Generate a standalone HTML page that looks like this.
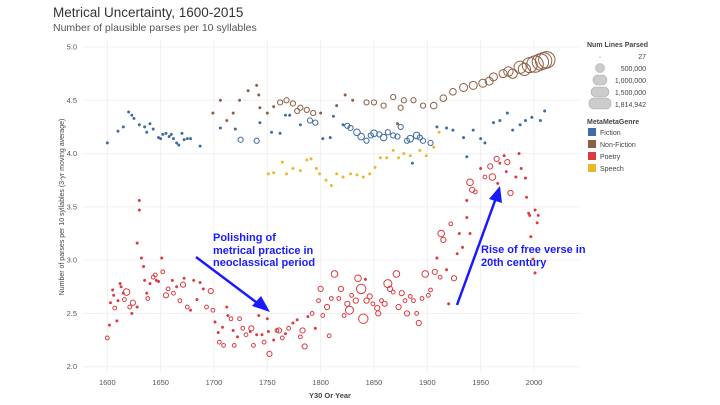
<!DOCTYPE html>
<html><head><meta charset="utf-8"><style>
body{margin:0;background:#fff;font-family:"Liberation Sans",sans-serif}
#wrap{position:relative;width:720px;height:405px;overflow:hidden}
</style></head><body>
<div id="wrap">
<svg id="svg" width="720" height="405" xmlns="http://www.w3.org/2000/svg">
<text x="53" y="17" font-size="13.5" fill="#333">Metrical Uncertainty, 1600-2015</text>
<text x="53" y="31" font-size="10.5" fill="#555">Number of plausible parses per 10 syllables</text>
<g id="grid"></g>
<g id="marks"></g>
<text x="330" y="398" font-size="7.5" font-weight="bold" fill="#444" text-anchor="middle">Y30 Or Year</text>
<text transform="translate(64,207) rotate(-90)" font-size="7" fill="#444" text-anchor="middle">Number of parses per 10 syllables (3-yr moving average)</text>
<g fill="#1a1aff" font-size="11" font-weight="bold">
<text x="213" y="241">Polishing of</text><text x="213" y="254">metrical practice in</text><text x="213" y="266">neoclassical period</text>
<line x1="196" y1="257" x2="260" y2="305" stroke="#1a1aff" stroke-width="2.5"/>
<polygon points="270,312 252,306 261,296" fill="#1a1aff"/>
</g>
<g fill="#1a1aff" font-size="11" font-weight="bold">
<text x="481" y="253">Rise of free verse in</text><text x="481" y="266">20th century</text>
<line x1="457" y1="305" x2="496" y2="198" stroke="#1a1aff" stroke-width="2.5"/>
<polygon points="500,186 502,203 489,199" fill="#1a1aff"/>
</g>
<g font-size="7" fill="#444">
<text x="587" y="47" font-weight="bold">Num Lines Parsed</text>
<circle cx="600" cy="57" r="0.8" fill="#bbb"/><text x="646" y="59" text-anchor="end">27</text>
<circle cx="600" cy="68" r="4.5" fill="#ccc" stroke="#aaa" stroke-width="0.6"/><text x="646" y="71" text-anchor="end">500,000</text>
<rect x="593" y="75" width="14" height="10" rx="5" fill="#ccc" stroke="#aaa" stroke-width="0.6"/><text x="646" y="83" text-anchor="end">1,000,000</text>
<rect x="591" y="87" width="18" height="10" rx="5" fill="#ccc" stroke="#aaa" stroke-width="0.6"/><text x="646" y="95" text-anchor="end">1,500,000</text>
<rect x="589" y="98" width="22" height="11" rx="5" fill="#ccc" stroke="#aaa" stroke-width="0.6"/><text x="646" y="107" text-anchor="end">1,814,942</text>
</g>
<g font-size="7" fill="#444">
<text x="587" y="124" font-weight="bold">MetaMetaGenre</text>
<rect x="588" y="128" width="8" height="8" fill="#3f6aa3"/><text x="600" y="135">Fiction</text>
<rect x="588" y="140" width="8" height="8" fill="#8e5e44"/><text x="600" y="147">Non-Fiction</text>
<rect x="588" y="152" width="8" height="8" fill="#dc3b3f"/><text x="600" y="159">Poetry</text>
<rect x="588" y="164" width="8" height="8" fill="#e9b82b"/><text x="600" y="171">Speech</text>
</g>
</svg>
</div>
<script>
const xTicks=[1600,1650,1700,1750,1800,1850,1900,1950,2000];
const yTicks=[2.0,2.5,3.0,3.5,4.0,4.5,5.0];
const fictionYears=[1600,1610,1615,1620,1623,1625,1630,1635,1637,1640,1643,1648,1650,1652,1655,1658,1660,1662,1665,1667,1670,1672,1675,1678,1687,1706,1720,1725,1740,1743,1754,1762,1767,1771,1781,1790,1795,1802,1809,1812,1821,1828,1834,1843,1850,1859,1868,1875,1881,1886,1890,1896,1903,1909,1918,1924,1934,1937,1943,1950,1954,1962,1968,1975,1980,1987,1992,1998,2006,2010,1825,1838,1847,1855,1863,1872,1884,1893];
const fictionValues=[4.10,4.21,4.25,4.39,4.36,4.33,4.27,4.25,4.20,4.28,4.23,4.15,4.14,4.18,4.19,4.16,4.18,4.14,4.10,4.08,4.19,4.13,4.14,4.14,4.07,4.24,4.23,4.13,4.12,4.29,4.20,4.19,4.36,4.36,4.27,4.31,4.29,4.14,4.15,4.35,4.27,4.24,4.20,4.12,4.19,4.15,4.17,4.25,4.12,3.91,4.17,4.12,4.10,4.25,4.24,4.22,4.15,3.97,4.22,4.14,4.10,4.29,4.31,4.38,4.22,4.27,4.31,4.34,4.31,4.40,4.26,4.16,4.17,4.18,4.20,4.16,4.14,4.15];
const fictionSizes=[0,0,0,0,0,0,0,0,0,0,0,0,0,0,0,0,0,0,0,0,0,0,0,0,0,0,0,3,3,0,0,0,0,0,0,3,3,0,0,0,0,3,4,3,4,4,3,3,3,0,4,3,3,0,0,0,0,0,0,0,0,0,0,0,0,0,0,0,0,0,3,4,3,3,3,3,4,3];
const nonfictionYears=[1699,1706,1712,1718,1724,1732,1740,1742,1743,1750,1756,1762,1768,1774,1778,1781,1787,1793,1800,1815,1823,1830,1843,1850,1859,1868,1872,1875,1878,1887,1896,1906,1915,1924,1934,1943,1952,1962,1971,1980,1987,1996,2006,2012,1991,2001,2009,1976,1958];
const nonfictionValues=[4.38,4.50,4.31,4.38,4.50,4.59,4.64,4.55,4.43,4.38,4.44,4.48,4.50,4.47,4.40,4.43,4.41,4.38,4.38,4.45,4.55,4.50,4.48,4.48,4.45,4.53,4.28,4.43,4.50,4.50,4.45,4.45,4.52,4.58,4.62,4.64,4.66,4.72,4.75,4.75,4.81,4.83,4.86,4.88,4.79,4.84,4.87,4.77,4.68];
const nonfictionSizes=[0,0,0,0,0,0,0,0,0,0,0,3,3,3,3,3,3,3,0,0,0,0,3,3,3,3,0,3,3,3,3,4,4,4,5,5,5,5,5,6,8,10,11,11,8,11,11,6,5];
const speechYears=[1751,1756,1764,1768,1774,1781,1787,1791,1796,1799,1805,1810,1815,1821,1828,1834,1840,1846,1851,1856,1862,1868,1873,1878,1884,1893,1899,1906,1911];
const speechValues=[3.81,3.82,3.92,3.81,3.86,3.84,3.94,3.95,3.86,3.81,3.75,3.70,3.81,3.78,3.81,3.80,3.78,3.81,3.87,3.96,3.96,4.03,3.96,4.00,3.98,4.03,3.98,4.06,4.20];
const poetryYears=[1600,1602,1603,1605,1606,1607,1609,1610,1612,1613,1615,1616,1618,1621,1623,1624,1628,1628,1630,1630,1632,1634,1635,1637,1638,1640,1643,1645,1646,1648,1651,1652,1655,1657,1661,1662,1665,1668,1671,1672,1675,1678,1681,1684,1687,1690,1693,1697,1699,1701,1704,1705,1708,1709,1712,1713,1716,1718,1719,1722,1724,1727,1730,1734,1735,1737,1740,1742,1745,1747,1750,1751,1752,1756,1759,1761,1764,1767,1770,1774,1778,1781,1783,1785,1788,1792,1795,1798,1800,1802,1806,1808,1810,1813,1817,1819,1822,1825,1827,1829,1833,1835,1838,1840,1842,1843,1846,1849,1853,1854,1857,1860,1863,1865,1868,1871,1873,1876,1879,1881,1884,1887,1890,1892,1895,1898,1901,1903,1907,1909,1912,1913,1915,1918,1920,1922,1925,1928,1930,1933,1937,1940,1940,1942,1937,1945,1950,1954,1959,1961,1965,1968,1966,1972,1975,1974,1978,1983,1986,1988,1992,1993,1995,1997,2001,1999,1996,2001,2003,2004];
const poetryValues=[2.27,2.39,2.60,2.72,2.67,2.55,2.43,2.62,2.78,2.75,2.69,2.63,2.70,2.56,2.50,2.60,2.56,3.16,3.47,3.56,3.02,2.94,2.81,2.69,2.64,2.78,2.84,2.86,2.81,2.80,3.02,2.89,2.67,2.73,2.81,2.69,2.75,2.62,2.77,2.83,2.56,2.53,2.81,2.63,2.79,2.73,2.56,2.71,2.53,2.42,2.32,2.23,2.37,2.20,2.56,2.48,2.45,2.34,2.20,2.28,2.45,2.36,2.30,2.33,2.36,2.20,2.30,2.48,2.30,2.23,2.45,2.33,2.12,2.25,2.34,2.34,2.27,2.31,2.36,2.41,2.44,2.28,2.34,2.19,2.47,2.50,2.36,2.62,2.73,2.48,2.56,2.29,2.64,2.87,2.64,2.73,2.48,2.59,2.53,2.67,2.62,2.83,2.73,2.45,2.82,2.62,2.66,2.59,2.55,2.50,2.62,2.59,2.78,2.73,2.70,2.87,2.56,2.69,2.62,2.50,2.66,2.62,2.50,2.41,2.64,2.87,2.67,2.72,2.89,3.02,2.84,3.25,3.19,2.91,2.59,3.34,2.83,3.06,3.25,3.12,3.40,3.25,3.73,3.66,3.56,3.64,3.86,3.78,3.88,3.78,3.95,3.91,3.72,3.98,3.92,3.83,3.63,3.78,4.00,3.86,3.77,3.59,3.44,3.22,3.47,3.01,3.42,2.88,3.35,3.42];
const poetrySizes=[2,0,0,0,0,2,0,0,0,0,0,2,4,2,0,3,0,0,0,0,0,0,0,0,2,0,2,2,0,0,0,2,3,2,0,2,0,2,3,0,2,0,0,0,0,0,2,3,2,0,0,2,0,2,0,0,2,0,2,0,2,2,2,0,3,2,0,0,0,2,0,0,3,0,2,3,2,0,2,0,0,2,3,3,0,2,0,2,3,2,3,2,2,4,2,3,2,3,5,2,3,4,6,6,0,3,3,2,3,3,2,3,5,3,2,4,3,3,2,3,2,2,2,3,2,4,2,2,3,0,2,4,3,0,0,2,3,0,0,0,0,0,4,3,0,2,0,2,3,4,3,0,0,0,3,0,3,0,0,0,0,0,0,0,0,0,0,0,0,0];
const NS='http://www.w3.org/2000/svg';
const X0=1600,X1=2000,PX0=107.3,PX1=534;
const Y0=2,Y1=5,PY0=366.7,PY1=47;
function xs(v){return PX0+(v-X0)*(PX1-PX0)/(X1-X0);}
function ys(v){return PY0-(v-Y0)*(PY0-PY1)/(Y1-Y0);}
const grid=document.getElementById('grid'),marks=document.getElementById('marks');
function mk(tag,attrs,parent){const e=document.createElementNS(NS,tag);for(const k in attrs)e.setAttribute(k,attrs[k]);parent.appendChild(e);return e;}
xTicks.forEach(t=>{
 const l=mk('line',{x1:xs(t),x2:xs(t),y1:40,y2:372,stroke:'#f0f0f0'},grid);
 
 
 const tx=mk('text',{x:xs(t),y:385,'font-size':7.5,fill:'#555','text-anchor':'middle'},grid);
 
 
 tx.textContent=t;
});
yTicks.forEach(t=>{
 const l=mk('line',{x1:83,x2:580,y1:ys(t),y2:ys(t),stroke:'#f0f0f0'},grid);
 
 
 const tx=mk('text',{x:77,y:ys(t)+2.5,'font-size':7.5,fill:'#555','text-anchor':'end'},grid);
 
 
 tx.textContent=t.toFixed(1);
});
function series(years,vals,sizes,color,name){
 years.forEach((yr,i)=>{
  const s=sizes?sizes[i]:0;
  const c=mk('circle',{cx:xs(yr),cy:ys(vals[i]),r:s?s*0.7+0.5:1.3,fill:s?'none':color,stroke:color,'stroke-width':s?1:0.5},marks);
  
  
 });
}
series(fictionYears,fictionValues,fictionSizes,'#3f6aa3','fiction');
series(nonfictionYears,nonfictionValues,nonfictionSizes,'#8e5e44','non-fiction');
series(speechYears,speechValues,null,'#e9b82b','speech');
series(poetryYears,poetryValues,poetrySizes,'#dc3b3f','poetry');
</script>
</body></html>
